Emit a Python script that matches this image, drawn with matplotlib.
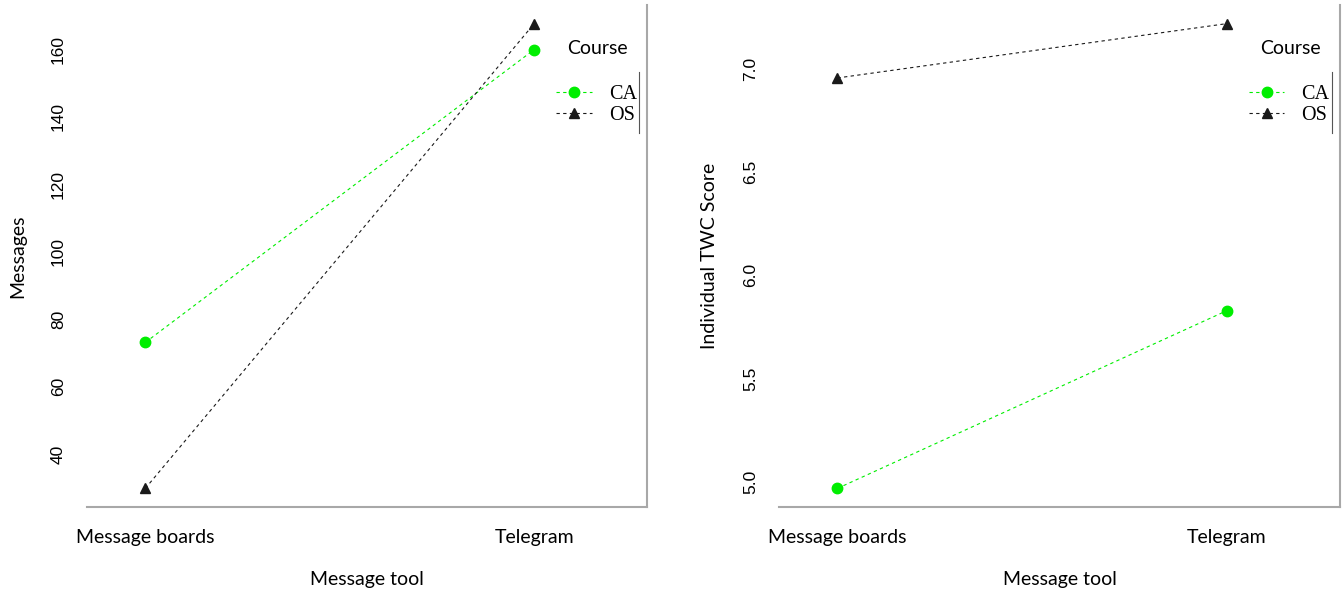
import matplotlib
matplotlib.use('Agg')
from matplotlib import pyplot as plt

tools = ['Message boards', 'Telegram']
courses = ['CA', 'OS']

messages_ca = [73.1, 160.0]
messages_os = [29.8, 167.7]
twc_ca = [4.97, 5.83]
twc_os = [6.955, 7.218]

msg_ticks = [40, 60, 80, 100, 120, 140, 160]
twc_ticks = [5.0, 5.5, 6.0, 6.5, 7.0]
twc_ticklabels = ['5.0', '5.5', '6.0', '6.5', '7.0']

SANS = 'Lato'
green = '#00ee00'
dark = '#1a1a1a'
spine_grey = '#a8a8a8'


def draw_panel(ax, ca, os_, ylabel, ticks, ticklabels):
    x = [1, 2]
    ax.plot(x, ca, color=green, ls=(0, (3, 3)), lw=0.8, marker='o', ms=7.5,
            label=courses[0])
    ax.plot(x, os_, color=dark, ls=(0, (3, 3)), lw=0.8, marker='^', ms=7.5,
            label=courses[1])

    lo = min(ca + os_)
    hi = max(ca + os_)
    pad = 0.04 * (hi - lo)
    ax.set_ylim(lo - pad, hi + pad)
    ax.set_xlim(0.85, 2.29)

    ax.set_xticks(x)
    ax.set_xticklabels(tools, fontfamily=SANS, fontsize=14)
    ax.set_yticks(ticks)
    ax.set_yticklabels(ticklabels, fontfamily='Liberation Sans', fontsize=12.5,
                       rotation=90, va='center')
    ax.tick_params(axis='x', length=0, pad=16)
    ax.tick_params(axis='y', length=0, pad=15)

    ax.set_xlabel('Message tool', fontfamily=SANS, fontsize=14, labelpad=18)
    ax.set_ylabel(ylabel, fontfamily=SANS, fontsize=14, labelpad=18)

    for side in ['left', 'top']:
        ax.spines[side].set_visible(False)
    for side in ['bottom', 'right']:
        ax.spines[side].set_color(spine_grey)
        ax.spines[side].set_linewidth(1.5)

    # legend, R interaction.plot style
    ax.legend(loc='upper left', bbox_to_anchor=(0.838, 0.84),
              frameon=False, borderpad=0, borderaxespad=0,
              handlelength=1.75, handletextpad=0.85, labelspacing=0.08,
              prop={'family': 'Liberation Serif', 'size': 14.5})
    ax.text(0.911, 0.914, 'Course', transform=ax.transAxes, ha='center',
            va='center', fontfamily=SANS, fontsize=14)
    ax.plot([0.986, 0.986], [0.745, 0.867], transform=ax.transAxes,
            color='#555555', lw=0.8, clip_on=False)


fig = plt.figure(figsize=(13.44, 5.95), dpi=100)
ax1 = fig.add_axes([0.0647, 0.1479, 0.4167, 0.8437])
ax2 = fig.add_axes([0.5796, 0.1479, 0.4174, 0.8437])

draw_panel(ax1, messages_ca, messages_os, 'Messages', msg_ticks,
           [str(t) for t in msg_ticks])
draw_panel(ax2, twc_ca, twc_os, 'Individual TWC Score', twc_ticks,
           twc_ticklabels)

fig.savefig('out.png', dpi=100)
